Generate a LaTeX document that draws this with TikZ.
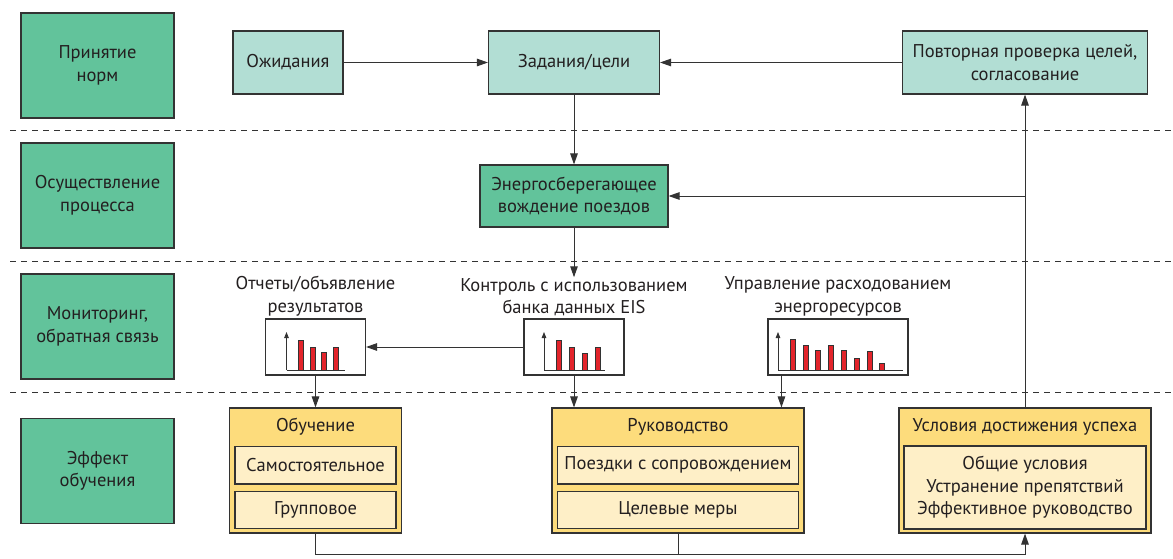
\documentclass[tikz,border=0pt]{standalone}
\usepackage{fontspec}
\setmainfont{PT Sans}
\usepackage{tikz}
\usetikzlibrary{arrows.meta, positioning, calc}
\definecolor{StageGreen}{HTML}{62C39B}
\definecolor{GoalTeal}{HTML}{B2DED4}
\definecolor{GroupYellow}{HTML}{FDDC7C}
\definecolor{ItemYellow}{HTML}{FEEFC7}
\definecolor{BarRed}{HTML}{E3242B}
\definecolor{LineDark}{HTML}{333333}
\definecolor{TextDark}{HTML}{231F20}

% small bar chart inside a chart box: node, axis start, axis end, spacing, heights
\newcommand{\drawbars}[5]{%
  \begin{scope}[shift={(#1.center)}]
    \draw[axis, -{Triangle[length=6pt,width=4.5pt]}] (#2,23) -- (#2,-15);
    \draw[axis] (#2,23) -- (#3,23);
    \foreach \hb [count=\ib from 0] in {#5}
      \draw[bar] (#2+12+#4*\ib,23) rectangle ++(5,-\hb);
  \end{scope}}

\begin{document}
\begin{tikzpicture}[x=1pt, y=-1pt,
  font=\fontsize{18.5}{22.5}\selectfont, text=TextDark,
  stage/.style={draw=LineDark, line width=1.1pt, fill=StageGreen, minimum width=153pt, minimum height=105pt, align=center, inner sep=0pt},
  goal/.style={draw=LineDark, line width=1.1pt, fill=GoalTeal, minimum height=63pt, align=center, inner sep=0pt},
  chart/.style={draw=LineDark, line width=1.1pt, fill=white, minimum width=100pt, minimum height=56pt, inner sep=0pt},
  caption/.style={align=center, inner sep=1pt},
  group/.style={draw=LineDark, line width=1.1pt, fill=GroupYellow, minimum height=125pt, inner sep=0pt},
  item/.style={draw=LineDark, line width=1.1pt, fill=ItemYellow, minimum height=37.5pt, align=center, inner sep=0pt},
  link/.style={draw=LineDark, line width=1pt},
  arr/.style={link, -{Triangle[length=11pt,width=7.5pt]}},
  sep/.style={draw=LineDark, line width=0.8pt, dash pattern=on 6pt off 5pt},
  axis/.style={draw=LineDark, line width=0.8pt},
  bar/.style={draw=LineDark, fill=BarRed, line width=0.6pt}
]
\useasboundingbox (0,0) rectangle (1173,559);

% Stages on the left
\node[stage] (stnorm) at (97.5,65.5) {Принятие\\норм};
\node[stage] (stproc) at (97.5,195.5) {Осуществление\\процесса};
\node[stage] (stmon) at (97.5,326.5) {Мониторинг,\\обратная связь};
\node[stage] (steff) at (97.5,471) {Эффект\\обучения};

% Separators
\foreach \y in {130,261,392} {
  \draw[sep] (10,\y) -- (1173,\y);
}

% Norms
\node[goal, minimum width=110pt] (expect) at (288,62.5) {Ожидания};
\node[goal, minimum width=171pt] (tasks) at (574,62.5) {Задания/цели};
\node[goal, minimum width=245pt] (review) at (1025,62.5) {Повторная проверка целей,\\согласование};

% Process
\node[goal, fill=StageGreen, minimum width=188pt, minimum height=62pt] (driving) at (574,196) {Энергосберегающее\\вождение поездов};

% Monitoring
\node[chart] (report) at (315.5,347) {};
\node[chart] (control) at (574,347) {};
\node[chart, minimum width=140pt] (energy) at (838,347) {};
\node[caption, above=1pt of report] (reportlbl) {Отчеты/объявление\\результатов};
\node[caption, above=1pt of control] (controllbl) {Контроль с использованием\\банка данных EIS};
\node[caption, above=1pt of energy] (energylbl) {Управление расходованием\\энергоресурсов};
\drawbars{report}{-29}{29}{11.5}{30,23,18,23}
\drawbars{control}{-30}{31}{13}{30,23,17,23}
\drawbars{energy}{-60}{65}{12.8}{31,25,20,25,20,12,19,7}

% Learning effect
\node[group, minimum width=172pt] (learn) at (315.5,470.5) {};
\node (learnhead) at ([yshift=-19pt]learn.north) {Обучение};
\node[item, minimum width=161pt, anchor=north] (learn1) at ([yshift=-38.5pt]learn.north) {Самостоятельное};
\node[item, minimum width=161pt, below=6pt of learn1] (learn2) {Групповое};

\node[group, minimum width=252pt] (guide) at (678,470.5) {};
\node (guidehead) at ([yshift=-19pt]guide.north) {Руководство};
\node[item, minimum width=241pt, anchor=north] (guide1) at ([yshift=-38.5pt]guide.north) {Поездки с сопровождением};
\node[item, minimum width=241pt, below=6pt of guide1] (guide2) {Целевые меры};

\node[group, minimum width=252pt] (success) at (1025,470.5) {};
\node (successhead) at ([yshift=-19pt]success.north) {Условия достижения успеха};
\node[item, minimum width=242pt, minimum height=83pt, anchor=north] (success1) at ([yshift=-38pt]success.north) {Общие условия\\Устранение препятствий\\Эффективное руководство};

% Connectors
\draw[arr] (expect) -- (tasks);
\draw[arr] (review) -- (tasks);
\draw[arr] (tasks) -- (driving);
\draw[arr] (driving) -- (controllbl);
\draw[arr] (control) -- (report);
\draw[arr] (report) -- (learn);
\draw[arr] (control.south) -- (control.south |- guide.north);
\coordinate (energyout) at ([xshift=14pt]energy.south west);
\draw[arr] (energyout) -- (energyout |- guide.north);
\draw[arr] (learn.south) -- ++(0,21) -| (success.south);
\draw[link] (guide.south) -- ++(0,21);
\draw[arr] (success.north) -- (review.south);
\coordinate (tap) at (success.north |- driving.east);
\draw[arr] (tap) -- (driving.east);
\end{tikzpicture}
\end{document}
